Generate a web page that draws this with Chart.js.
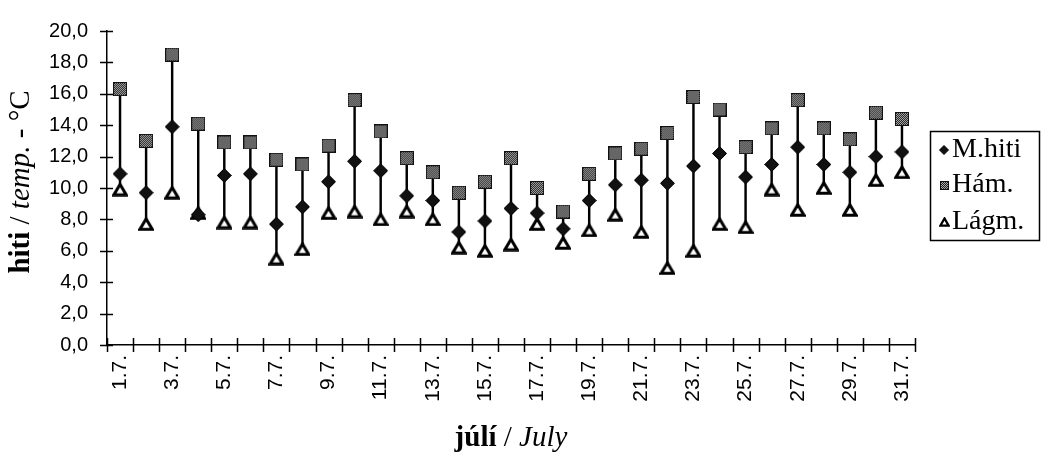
<!DOCTYPE html>
<html>
<head>
<meta charset="utf-8">
<script src="https://cdn.jsdelivr.net/npm/chart.js@4/dist/chart.umd.min.js"></script>
<style>
  html, body { margin: 0; padding: 0; background: #fff; }
  #wrap { width: 1046px; height: 456px; }
</style>
</head>
<body>
<div id="wrap"><canvas id="c" width="1046" height="456"></canvas></div>
<script>
// Daily air temperature, July
const days = ['1.7.', '2.7.', '3.7.', '4.7.', '5.7.', '6.7.', '7.7.', '8.7.', '9.7.', '10.7.',
  '11.7.', '12.7.', '13.7.', '14.7.', '15.7.', '16.7.', '17.7.', '18.7.', '19.7.', '20.7.',
  '21.7.', '22.7.', '23.7.', '24.7.', '25.7.', '26.7.', '27.7.', '28.7.', '29.7.', '30.7.', '31.7.'];

// M.hiti – daily mean
const meanTemp = [10.9, 9.7, 13.9, 8.3, 10.8, 10.9, 7.7, 8.8, 10.4, 11.7,
  11.1, 9.5, 9.2, 7.2, 7.9, 8.7, 8.4, 7.4, 9.2, 10.2,
  10.5, 10.3, 11.4, 12.2, 10.7, 11.5, 12.6, 11.5, 11.0, 12.0, 12.3];

// Hám. – daily maximum
const maxTemp = [16.3, 13.0, 18.5, 14.1, 12.9, 12.9, 11.8, 11.5, 12.7, 15.6,
  13.6, 11.9, 11.0, 9.7, 10.4, 11.9, 10.0, 8.5, 10.9, 12.2,
  12.5, 13.5, 15.8, 15.0, 12.6, 13.8, 15.6, 13.8, 13.1, 14.8, 14.4];

// Lágm. – daily minimum
const minTemp = [9.9, 7.7, 9.7, 8.4, 7.8, 7.8, 5.5, 6.1, 8.4, 8.5,
  8.0, 8.5, 8.0, 6.2, 6.0, 6.4, 7.7, 6.5, 7.3, 8.3,
  7.2, 4.9, 6.0, 7.7, 7.5, 9.9, 8.6, 10.0, 8.6, 10.5, 11.0];

const seriesNames = ['M.hiti', 'Hám.', 'Lágm.'];
const yMin = 0, yMax = 20, yStep = 2;

// ---- marker images -------------------------------------------------------
function makeCanvas(w, h, draw) {
  const c = document.createElement('canvas');
  c.width = w; c.height = h;
  draw(c.getContext('2d'), w, h);
  return c;
}
function diamond(s) {
  return makeCanvas(s, s, (g, w, h) => {
    g.beginPath();
    g.moveTo(w / 2, 0.5); g.lineTo(w - 0.5, h / 2); g.lineTo(w / 2, h - 0.5); g.lineTo(0.5, h / 2);
    g.closePath();
    g.fillStyle = '#111'; g.fill();
    g.strokeStyle = '#000'; g.lineWidth = 1; g.stroke();
  });
}
function checkerSquare(s) {
  return makeCanvas(s, s, (g, w, h) => {
    g.fillStyle = '#fff'; g.fillRect(0, 0, w, h);
    for (let yy = 0; yy < h; yy++) {
      for (let xx = 0; xx < w; xx++) {
        g.fillStyle = ((xx + yy) % 2 === 0) ? '#222' : '#aaa';
        g.fillRect(xx, yy, 1, 1);
      }
    }
    g.strokeStyle = '#111'; g.lineWidth = 1;
    g.strokeRect(0.5, 0.5, w - 1, h - 1);
  });
}
function openTriangle(w, h, lw) {
  return makeCanvas(w, h, (g) => {
    const p = lw / 2 + 0.3;
    g.beginPath();
    g.moveTo(w / 2, p); g.lineTo(w - p, h - p); g.lineTo(p, h - p);
    g.closePath();
    g.fillStyle = '#fff'; g.fill();
    g.lineJoin = 'miter';
    g.strokeStyle = '#000'; g.lineWidth = lw; g.stroke();
  });
}

const meanMark = diamond(15);
const maxMark = checkerSquare(14);
const minMark = openTriangle(16, 14, 3);
const legendMarks = [diamond(10), checkerSquare(9), openTriangle(11, 10, 2.2)];

// ---- plugins -------------------------------------------------------------
// tick marks crossing both axes
const crossTicks = {
  id: 'crossTicks',
  afterDatasetsDraw(chart) {
    const { ctx, scales: { x, y } } = chart;
    ctx.save();
    ctx.strokeStyle = '#000';
    ctx.lineWidth = 1.5;
    ctx.beginPath();
    y.ticks.forEach((t, i) => {
      const py = Math.round(y.getPixelForTick(i)) + 0.5;
      ctx.moveTo(x.left - 7, py); ctx.lineTo(x.left + 6, py);
    });
    const half = (x.getPixelForValue(1) - x.getPixelForValue(0)) / 2;
    for (let i = 0; i <= days.length; i++) {
      const px = Math.round(x.getPixelForValue(i) - half) + 0.5;
      ctx.moveTo(px, y.bottom - 7); ctx.lineTo(px, y.bottom + 7);
    }
    ctx.stroke();
    ctx.restore();
  }
};

function drawRuns(ctx, runs, cx, cy) {
  let total = 0;
  runs.forEach(r => { ctx.font = r.f; r.w = ctx.measureText(r.t).width; total += r.w; });
  let pos = cx - total / 2;
  runs.forEach(r => { ctx.font = r.f; ctx.fillText(r.t, pos, cy); pos += r.w; });
}

// axis titles with mixed bold / italic runs
const axisTitles = {
  id: 'axisTitles',
  afterDraw(chart) {
    const { ctx, chartArea: a } = chart;
    const serif = '"Liberation Serif", "Times New Roman", serif';
    ctx.save();
    ctx.fillStyle = '#000';
    ctx.textAlign = 'left';
    ctx.textBaseline = 'alphabetic';
    drawRuns(ctx, [
      { t: 'júlí', f: 'bold 29px ' + serif },
      { t: ' / ', f: '29px ' + serif },
      { t: 'July', f: 'italic 29px ' + serif }
    ], (a.left + a.right) / 2, 446);

    ctx.translate(29, (a.top + a.bottom) / 2 - 6);
    ctx.rotate(-Math.PI / 2);
    drawRuns(ctx, [
      { t: 'hiti', f: 'bold 29px ' + serif },
      { t: ' / ', f: '29px ' + serif },
      { t: 'temp.', f: 'italic 29px ' + serif },
      { t: ' - °C', f: '29px ' + serif }
    ], 0, 0);
    ctx.restore();
  }
};

// boxed legend to the right of the plot
const boxLegend = {
  id: 'boxLegend',
  afterDraw(chart) {
    const { ctx, chartArea: a } = chart;
    const left = a.right + 15, top = a.top + 100, w = 109, h = 109;
    ctx.save();
    ctx.strokeStyle = '#000';
    ctx.lineWidth = 1.5;
    ctx.strokeRect(left + 0.5, top + 0.5, w, h);
    ctx.fillStyle = '#000';
    ctx.font = '28px "Liberation Serif", "Times New Roman", serif';
    ctx.textBaseline = 'middle';
    ctx.textAlign = 'left';
    const rows = [top + 18, top + 53, top + 90];
    seriesNames.forEach((name, i) => {
      const m = legendMarks[i];
      ctx.drawImage(m, Math.round(left + 14 - m.width / 2), Math.round(rows[i] - m.height / 2 + 1));
      ctx.fillText(name, left + 22, rows[i] + 1);
    });
    ctx.restore();
  }
};

// ---- chart ---------------------------------------------------------------
const sansFamily = '"Liberation Sans", Arial, Helvetica, sans-serif';

new Chart(document.getElementById('c'), {
  type: 'line',
  data: {
    labels: days,
    datasets: [
      {
        label: seriesNames[0], data: meanTemp, showLine: false,
        pointStyle: meanMark, pointRadius: 6, pointHoverRadius: 6
      },
      {
        label: seriesNames[1], data: maxTemp, showLine: false,
        pointStyle: maxMark, pointRadius: 6, pointHoverRadius: 6
      },
      {
        label: seriesNames[2], data: minTemp, showLine: false,
        pointStyle: minMark, pointRadius: 6, pointHoverRadius: 6
      },
      {
        type: 'bar', label: 'range',
        data: minTemp.map((lo, i) => [lo, maxTemp[i]]),
        backgroundColor: '#000', borderWidth: 0, barThickness: 1.8
      }
    ]
  },
  options: {
    responsive: false,
    animation: false,
    layout: { padding: { top: 17, right: 131, left: 0, bottom: 0 } },
    plugins: {
      legend: { display: false },
      tooltip: { enabled: false },
      title: { display: false }
    },
    scales: {
      x: {
        type: 'category',
        offset: true,
        grid: { display: false, drawTicks: false, offset: true },
        border: { display: true, color: '#000', width: 1.5 },
        ticks: {
          autoSkip: false, minRotation: 90, maxRotation: 90, padding: 10,
          color: '#000', font: { family: sansFamily, size: 21 },
          callback: (v, i) => (i % 2 === 0 ? days[i] : '')
        },
        afterFit: (s) => { s.height = 111; }
      },
      y: {
        min: yMin, max: yMax,
        grid: { display: false, drawTicks: false },
        border: { display: true, color: '#000', width: 1.5 },
        ticks: {
          stepSize: yStep, padding: 19, color: '#000', font: { family: sansFamily, size: 20 },
          callback: (v) => Number(v).toFixed(1).replace('.', ',')
        },
        afterFit: (s) => { s.width = 107; }
      }
    }
  },
  plugins: [crossTicks, axisTitles, boxLegend]
});
</script>
</body>
</html>
